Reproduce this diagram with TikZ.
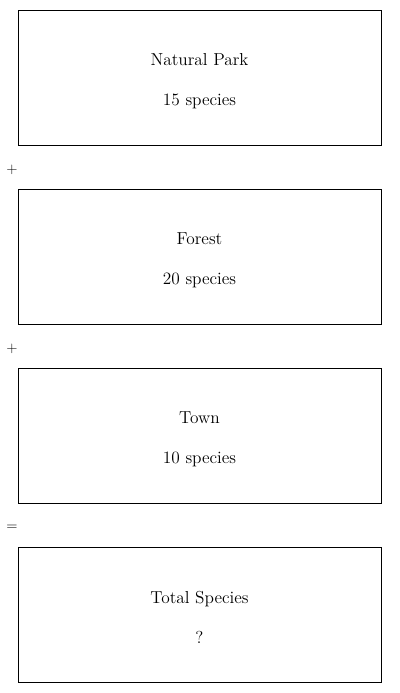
\documentclass[tikz,border=0pt]{standalone}
\usepackage{tikz}
\tikzset{every picture/.style={line width=0.75pt}}
\newcommand{\toppad}{\rule{0pt}{14pt}}
\tikzset{
areabox/.style={draw, minimum width=272.25pt, minimum height=101.25pt, align=center, inner sep=0pt, font=\fontsize{13}{16}\selectfont},
opsign/.style={inner sep=0.75pt, font=\fontsize{11}{13}\selectfont}}

\begin{document}
\begin{tikzpicture}[x=0.75pt,y=0.75pt,yscale=-1,xscale=1]
\useasboundingbox (0,0) rectangle (400,693);

%Shape: Rectangle [id:park]
\draw (199.5,77.5) node [areabox] (park) {\toppad Natural Park\\[14pt]15 species};
% Text Node
\draw (12,169.5) node [opsign] (plusa) {+};
%Shape: Rectangle [id:forest]
\draw (199.5,256.5) node [areabox] (forest) {\toppad Forest\\[14pt]20 species};
% Text Node
\draw (12,348.5) node [opsign] (plusb) {+};
%Shape: Rectangle [id:town]
\draw (199.5,435.5) node [areabox] (town) {\toppad Town\\[14pt]10 species};
% Text Node
\draw (12,527.5) node [opsign] (equals) {=};
%Shape: Rectangle [id:total]
\draw (199.5,614.5) node [areabox] (total) {\toppad Total Species\\[14pt]?};

\end{tikzpicture}
\end{document}
